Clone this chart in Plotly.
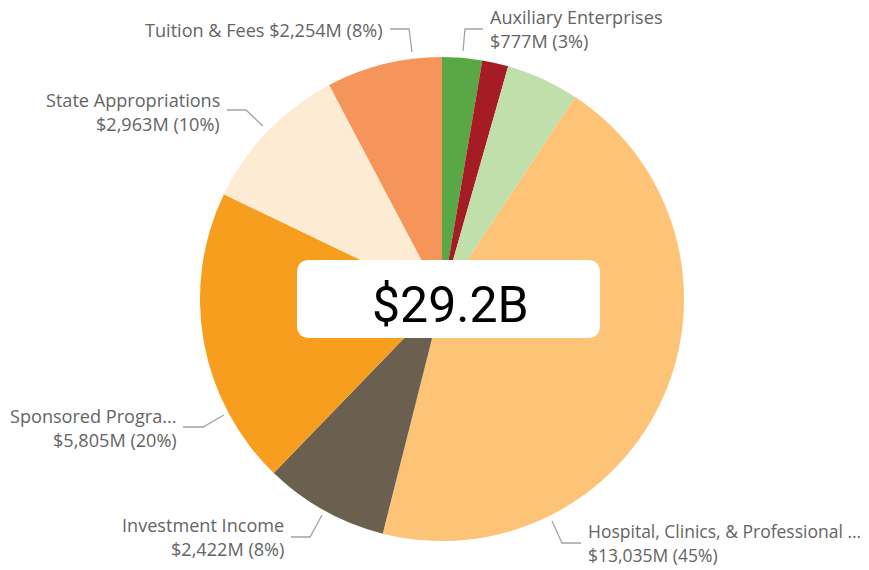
import plotly.graph_objects as go

# Revenue sources, in millions of dollars (clockwise from 12 o'clock)
categories = [
    "Auxiliary Enterprises",
    "Gifts",
    "Other Operating Revenue",
    "Hospital, Clinics, & Professional Services",
    "Investment Income",
    "Sponsored Programs",
    "State Appropriations",
    "Tuition & Fees",
]
revenue_musd = [777, 510, 1420, 13035, 2422, 5805, 2963, 2254]
slice_colors = ["#59A845", "#A51C24", "#C0DFAB", "#FDC477",
                "#6B5F50", "#F79E1F", "#FEEBD3", "#F69559"]

W, H = 869, 570
LABEL_COLOR = "#646464"
LEADER_COLOR = "#A3A3A3"
LABEL_FAMILY = "Open Sans, Noto Sans, sans-serif"
LABEL_SIZE = 18.1


def fx(x):
    return x / W


def fy(y):
    return 1 - y / H


total = sum(revenue_musd)
share = {c: v / total for c, v in zip(categories, revenue_musd)}
amount = {c: v for c, v in zip(categories, revenue_musd)}


def value_text(cat):
    return f"${amount[cat]:,}M ({share[cat]:.0%})"


# Outside label placement: text lines, alignment side, anchor x, line centres, leader polyline
label_layout = [
    dict(cat="Tuition & Fees", name="Tuition & Fees", one_line=True, side="right",
         x=384, ys=[30], leader=[(390, 29), (409, 29), (412, 52)]),
    dict(cat="Auxiliary Enterprises", name="Auxiliary Enterprises", side="left",
         x=489, ys=[17, 41], leader=[(463, 51), (465, 29), (483, 29)]),
    dict(cat="State Appropriations", name="State Appropriations", side="right",
         x=221, ys=[100, 124], leader=[(227, 110), (246, 110), (263, 126)]),
    dict(cat="Sponsored Programs", name="Sponsored Progra...", side="right",
         x=178, ys=[416, 440], leader=[(183, 427), (203, 427), (224, 415)]),
    dict(cat="Investment Income", name="Investment Income", side="right",
         x=285, ys=[525, 549], leader=[(291, 537), (310, 537), (322, 515)]),
    dict(cat="Hospital, Clinics, & Professional Services",
         name="Hospital, Clinics, & Professional ...", side="left", size=17.5,
         x=587, ys=[531, 555], leader=[(552, 521), (562, 543), (581, 543)]),
]

fig = go.Figure(
    go.Pie(
        labels=categories,
        values=revenue_musd,
        marker=dict(colors=slice_colors, line=dict(width=0)),
        sort=False,
        direction="clockwise",
        rotation=0,
        textinfo="none",
        hovertemplate="%{label}<br>$%{value:,}M (%{percent})<extra></extra>",
        domain=dict(x=[fx(200), fx(684)], y=[fy(541), fy(57)]),
        showlegend=False,
    )
)

annotations = []
shapes = []
for spec in label_layout:
    if spec.get("one_line"):
        lines = [f"{spec['name']} {value_text(spec['cat'])}"]
    else:
        lines = [spec["name"], value_text(spec["cat"])]
    font = dict(family=LABEL_FAMILY, size=spec.get("size", LABEL_SIZE), color=LABEL_COLOR)
    for text, yc in zip(lines, spec["ys"]):
        annotations.append(dict(
            text=text, x=fx(spec["x"]), y=fy(yc), xref="paper", yref="paper",
            xanchor=spec["side"], yanchor="middle", showarrow=False,
            font=font, borderpad=0,
        ))
    pts = spec["leader"]
    path = "M " + " L ".join(f"{fx(a):.5f},{fy(b):.5f}" for a, b in pts)
    shapes.append(dict(type="path", path=path, xref="paper", yref="paper",
                       line=dict(color=LEADER_COLOR, width=1.3), layer="above"))

# Rounded white card in the centre holding the total
x0, y0, x1, y1, r = 297, 260, 600, 338, 13
card = (
    f"M {fx(x0 + r)},{fy(y0)} L {fx(x1 - r)},{fy(y0)} "
    f"Q {fx(x1)},{fy(y0)} {fx(x1)},{fy(y0 + r)} "
    f"L {fx(x1)},{fy(y1 - r)} Q {fx(x1)},{fy(y1)} {fx(x1 - r)},{fy(y1)} "
    f"L {fx(x0 + r)},{fy(y1)} Q {fx(x0)},{fy(y1)} {fx(x0)},{fy(y1 - r)} "
    f"L {fx(x0)},{fy(y0 + r)} Q {fx(x0)},{fy(y0)} {fx(x0 + r)},{fy(y0)} Z"
)
shapes.append(dict(type="path", path=card, xref="paper", yref="paper",
                   fillcolor="white", line=dict(width=0), layer="above"))

annotations.append(dict(
    text=f"${total / 1000:.1f}B", x=fx(450), y=fy(305), xref="paper", yref="paper",
    xanchor="center", yanchor="middle", showarrow=False,
    font=dict(family="Roboto, sans-serif", size=50, color="#000000"),
))

fig.update_layout(
    width=W, height=H,
    margin=dict(l=0, r=0, t=0, b=0),
    paper_bgcolor="white",
    plot_bgcolor="white",
    shapes=shapes,
    annotations=annotations,
)

fig.write_html("out.html")
